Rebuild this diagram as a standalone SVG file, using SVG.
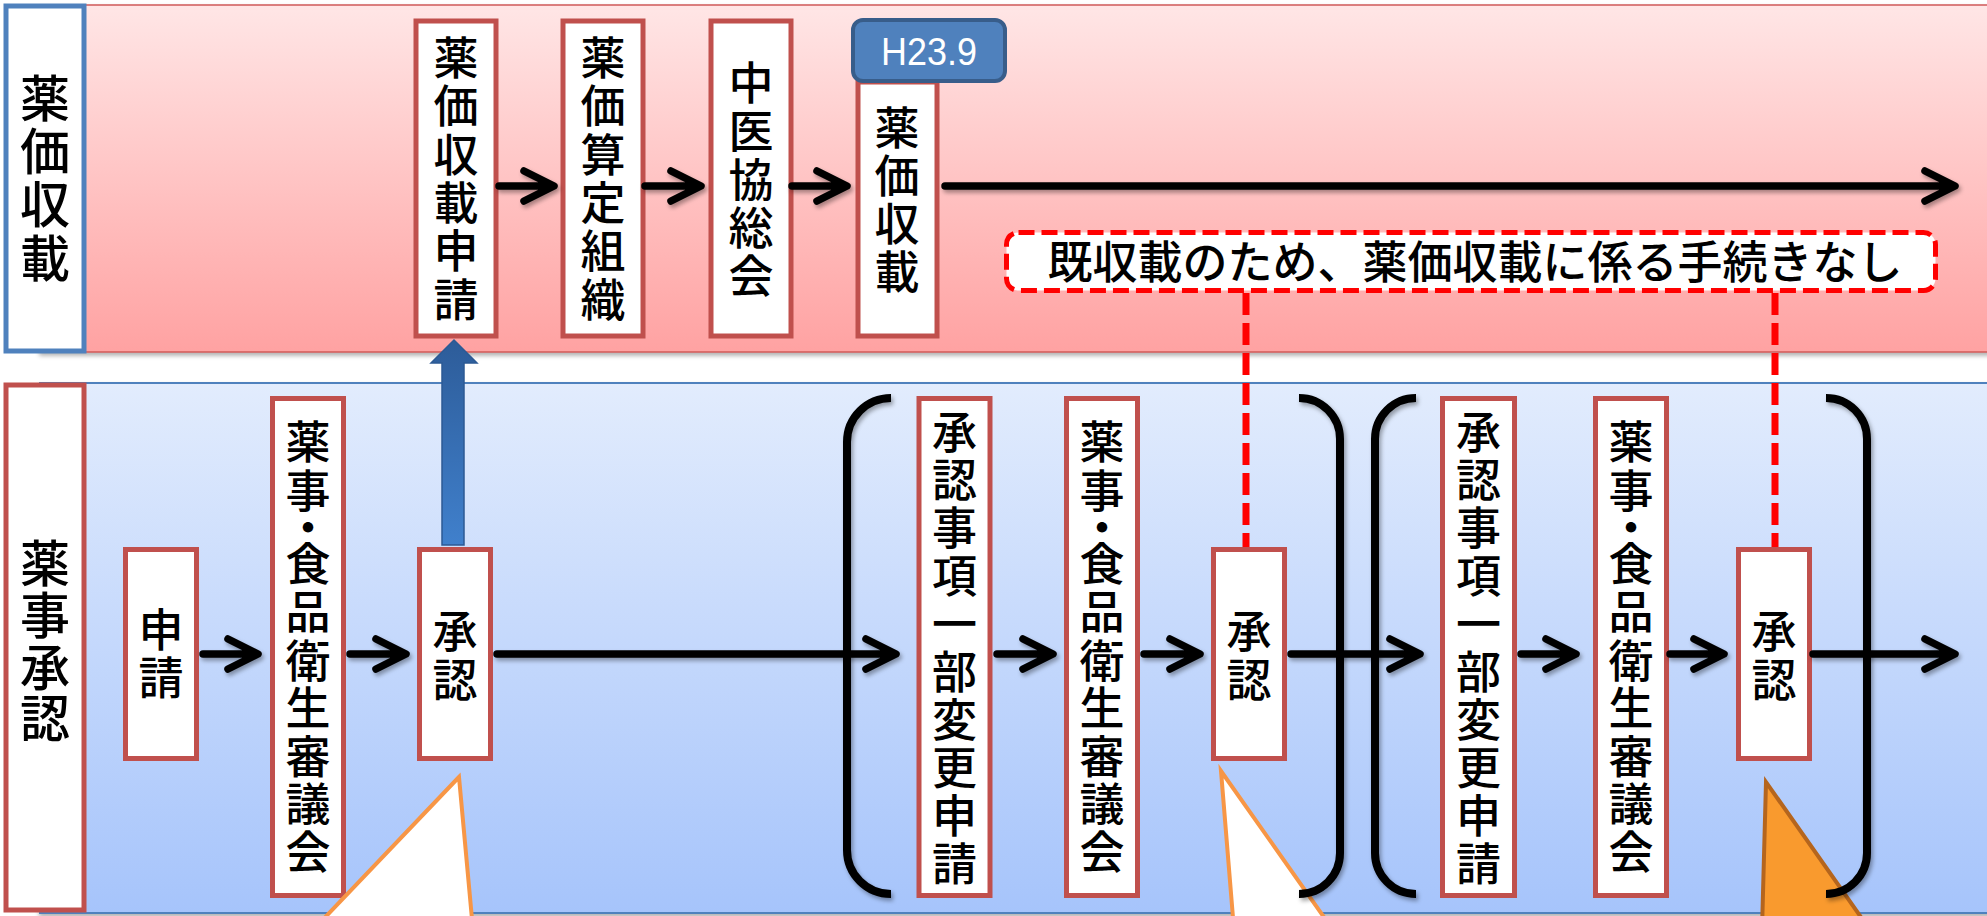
<svg xmlns="http://www.w3.org/2000/svg" width="1987" height="916" viewBox="0 0 1987 916">
<defs>
<linearGradient id="pinkG" x1="0" y1="0" x2="0" y2="1">
<stop offset="0" stop-color="#FFE6E6"/>
<stop offset="1" stop-color="#FFA2A2"/>
</linearGradient>
<linearGradient id="blueG" x1="0" y1="0" x2="0" y2="1">
<stop offset="0" stop-color="#E2ECFD"/>
<stop offset="1" stop-color="#A6C4FB"/>
</linearGradient>
<linearGradient id="upG" x1="0" y1="0" x2="0" y2="1">
<stop offset="0" stop-color="#2D5C99"/>
<stop offset="1" stop-color="#4080CC"/>
</linearGradient>
<filter id="sh" x="-20%" y="-20%" width="140%" height="140%">
<feDropShadow dx="2" dy="3" stdDeviation="2" flood-color="#000" flood-opacity="0.35"/>
</filter>
<filter id="bandSh" x="-5%" y="-5%" width="110%" height="115%">
<feDropShadow dx="0" dy="3" stdDeviation="2" flood-color="#000" flood-opacity="0.3"/>
</filter>
<style>
.box{fill:#fff;stroke:#C0504D;stroke-width:5}
.jp{font-family:"Noto Sans CJK JP","Noto Sans CJK SC",sans-serif;fill:#000;text-anchor:middle;font-weight:500}
.t45{font-size:45px}
.t50{font-size:50px}
.arr{fill:none;stroke:#000;stroke-width:7.5;stroke-linecap:round;stroke-linejoin:round}
.brk{fill:none;stroke:#000;stroke-width:8;stroke-linecap:butt}
.dash{fill:none;stroke:#FF0000;stroke-width:7;stroke-dasharray:22 8}
</style>
</defs>

<rect x="0" y="0" width="1987" height="916" fill="#fff"/>

<!-- bands -->
<g id="band-top">
<rect x="40" y="5" width="1960" height="347" fill="url(#pinkG)" stroke="#D05A58" stroke-width="1.5" filter="url(#bandSh)"/>
</g>
<g id="band-bottom">
<rect x="40" y="383" width="1960" height="530" fill="url(#blueG)" stroke="#4F81BD" stroke-width="2" filter="url(#bandSh)"/>
</g>

<!-- lane labels -->
<g id="label-yakka">
<rect x="6" y="6" width="78" height="345" fill="#fff" stroke="#4F81BD" stroke-width="5"/>
<text class="jp t50" x="45"><tspan x="45" y="117">薬</tspan><tspan x="45" y="170">価</tspan><tspan x="45" y="223">収</tspan><tspan x="45" y="277">載</tspan></text>
</g>
<g id="label-yakuji">
<rect x="6" y="385" width="78" height="525" fill="#fff" stroke="#C0504D" stroke-width="5"/>
<text class="jp t50" x="45"><tspan x="45" y="582">薬</tspan><tspan x="45" y="634">事</tspan><tspan x="45" y="686">承</tspan><tspan x="45" y="737">認</tspan></text>
</g>

<!-- top nodes -->
<g id="n-shinsei-yakka">
<rect class="box" x="416" y="21" width="80" height="315"/>
<text class="jp t45"><tspan x="456" y="75">薬</tspan><tspan x="456" y="123">価</tspan><tspan x="456" y="172">収</tspan><tspan x="456" y="220">載</tspan><tspan x="456" y="268">申</tspan><tspan x="456" y="317">請</tspan></text>
</g>
<g id="n-santei">
<rect class="box" x="563" y="21" width="80" height="315"/>
<text class="jp t45"><tspan x="603" y="75">薬</tspan><tspan x="603" y="123">価</tspan><tspan x="603" y="172">算</tspan><tspan x="603" y="220">定</tspan><tspan x="603" y="268">組</tspan><tspan x="603" y="317">織</tspan></text>
</g>
<g id="n-chuikyo">
<rect class="box" x="711" y="21" width="80" height="315"/>
<text class="jp t45"><tspan x="751" y="100">中</tspan><tspan x="751" y="148">医</tspan><tspan x="751" y="197">協</tspan><tspan x="751" y="245">総</tspan><tspan x="751" y="293">会</tspan></text>
</g>
<g id="n-shusai">
<rect class="box" x="858" y="82" width="79" height="254"/>
<text class="jp t45"><tspan x="897" y="145">薬</tspan><tspan x="897" y="193">価</tspan><tspan x="897" y="241">収</tspan><tspan x="897" y="289">載</tspan></text>
<rect x="853" y="20" width="152" height="61" rx="10" fill="#4F81BD" stroke="#385D8A" stroke-width="4"/>
<text x="929" y="65" font-family="Liberation Sans, Arial, sans-serif" font-size="38" fill="#fff" text-anchor="middle" textLength="96" lengthAdjust="spacingAndGlyphs">H23.9</text>
</g>

<!-- note -->
<g id="n-note">
<rect x="1006.5" y="232.5" width="929" height="58" rx="12" fill="#fff" stroke="#FF0000" stroke-width="5" stroke-dasharray="16 7"/>
<text class="jp t45" x="1475" y="279">既収載のため、薬価収載に係る手続きなし</text>
</g>

<!-- bottom nodes -->
<g id="n-shinsei">
<rect class="box" x="125.5" y="549.5" width="71" height="209"/>
<text class="jp t45"><tspan x="161" y="647">申</tspan><tspan x="161" y="695">請</tspan></text>
</g>
<g id="n-shingikai1">
<rect class="box" x="272.5" y="398.5" width="71" height="497"/>
<text class="jp t45"><tspan x="308" y="459">薬</tspan><tspan x="308" y="508">事</tspan><tspan x="308" y="545">・</tspan><tspan x="308" y="581">食</tspan><tspan x="308" y="629">品</tspan><tspan x="308" y="678">衛</tspan><tspan x="308" y="725">生</tspan><tspan x="308" y="774">審</tspan><tspan x="308" y="821">議</tspan><tspan x="308" y="869">会</tspan></text>
</g>
<g id="n-shonin1">
<rect class="box" x="419.5" y="549.5" width="71" height="209"/>
<text class="jp t45"><tspan x="455" y="648">承</tspan><tspan x="455" y="697">認</tspan></text>
</g>
<g id="n-henko1">
<rect class="box" x="919" y="398.5" width="71" height="497"/>
<text class="jp t45"><tspan x="954.5" y="449">承</tspan><tspan x="954.5" y="497">認</tspan><tspan x="954.5" y="545">事</tspan><tspan x="954.5" y="593">項</tspan><tspan x="954.5" y="641">一</tspan><tspan x="954.5" y="689">部</tspan><tspan x="954.5" y="737">変</tspan><tspan x="954.5" y="785">更</tspan><tspan x="954.5" y="833">申</tspan><tspan x="954.5" y="881">請</tspan></text>
</g>
<g id="n-shingikai2">
<rect class="box" x="1066.5" y="398.5" width="71" height="497"/>
<text class="jp t45"><tspan x="1102" y="459">薬</tspan><tspan x="1102" y="508">事</tspan><tspan x="1102" y="545">・</tspan><tspan x="1102" y="581">食</tspan><tspan x="1102" y="629">品</tspan><tspan x="1102" y="678">衛</tspan><tspan x="1102" y="725">生</tspan><tspan x="1102" y="774">審</tspan><tspan x="1102" y="821">議</tspan><tspan x="1102" y="869">会</tspan></text>
</g>
<g id="n-shonin2">
<rect class="box" x="1213.5" y="549.5" width="71" height="209"/>
<text class="jp t45"><tspan x="1249" y="648">承</tspan><tspan x="1249" y="697">認</tspan></text>
</g>
<g id="n-henko2">
<rect class="box" x="1442.5" y="398.5" width="72" height="497"/>
<text class="jp t45"><tspan x="1478.5" y="449">承</tspan><tspan x="1478.5" y="497">認</tspan><tspan x="1478.5" y="545">事</tspan><tspan x="1478.5" y="593">項</tspan><tspan x="1478.5" y="641">一</tspan><tspan x="1478.5" y="689">部</tspan><tspan x="1478.5" y="737">変</tspan><tspan x="1478.5" y="785">更</tspan><tspan x="1478.5" y="833">申</tspan><tspan x="1478.5" y="881">請</tspan></text>
</g>
<g id="n-shingikai3">
<rect class="box" x="1595.5" y="398.5" width="71" height="497"/>
<text class="jp t45"><tspan x="1631" y="459">薬</tspan><tspan x="1631" y="508">事</tspan><tspan x="1631" y="545">・</tspan><tspan x="1631" y="581">食</tspan><tspan x="1631" y="629">品</tspan><tspan x="1631" y="678">衛</tspan><tspan x="1631" y="725">生</tspan><tspan x="1631" y="774">審</tspan><tspan x="1631" y="821">議</tspan><tspan x="1631" y="869">会</tspan></text>
</g>
<g id="n-shonin3">
<rect class="box" x="1738.5" y="549.5" width="71" height="209"/>
<text class="jp t45"><tspan x="1774" y="648">承</tspan><tspan x="1774" y="697">認</tspan></text>
</g>

<!-- callouts (partially visible) -->
<g id="callouts">
<polygon points="459,777 313,930 473,930" fill="#fff" stroke="#F79646" stroke-width="4"/>
<polygon points="1221,771 1234,930 1333,930" fill="#fff" stroke="#F79646" stroke-width="4"/>
<polygon points="1766,782 1762,930 1870,930" fill="#F99A2E" stroke="#B5651D" stroke-width="4"/>
</g>

<!-- connectors -->
<g id="connectors">
<g filter="url(#sh)">
<path class="arr" d="M499,186 H551 M524,171 L554,186 L524,201"/>
<path class="arr" d="M645,186 H698 M671,171 L701,186 L671,201"/>
<path class="arr" d="M792,186 H844 M817,171 L847,186 L817,201"/>
<path class="arr" d="M945,186 H1952 M1925,171 L1955,186 L1925,201"/>
<path class="arr" d="M203,654 H255 M228,639 L258,654 L228,669"/>
<path class="arr" d="M350,654 H403 M376,639 L406,654 L376,669"/>
<path class="arr" d="M497,654 H893 M866,639 L896,654 L866,669"/>
<path class="arr" d="M997,654 H1050 M1023,639 L1053,654 L1023,669"/>
<path class="arr" d="M1144,654 H1197 M1170,639 L1200,654 L1170,669"/>
<path class="arr" d="M1291,654 H1417 M1390,639 L1420,654 L1390,669"/>
<path class="arr" d="M1521,654 H1573 M1546,639 L1576,654 L1546,669"/>
<path class="arr" d="M1670,654 H1721 M1694,639 L1724,654 L1694,669"/>
<path class="arr" d="M1813,654 H1952 M1925,639 L1955,654 L1925,669"/>
</g>
<polygon points="442,545 442,363 431,363 454,340 477,363 464,363 464,545" fill="url(#upG)" stroke="#2C5A94" stroke-width="1.5"/>
<line class="dash" x1="1246" y1="293" x2="1246" y2="547"/>
<line class="dash" x1="1775" y1="293" x2="1775" y2="547"/>
</g>

<!-- brackets -->
<g id="brackets" filter="url(#sh)">
<path class="brk" d="M891,398 A44,44 0 0 0 847,442 V850 A44,44 0 0 0 891,894"/>
<path class="brk" d="M1299,398 A41,41 0 0 1 1340,439 V853 A41,41 0 0 1 1299,894"/>
<path class="brk" d="M1416,398 A41,41 0 0 0 1375,439 V853 A41,41 0 0 0 1416,894"/>
<path class="brk" d="M1826,398 A41,41 0 0 1 1867,439 V853 A41,41 0 0 1 1826,894"/>
</g>
</svg>
